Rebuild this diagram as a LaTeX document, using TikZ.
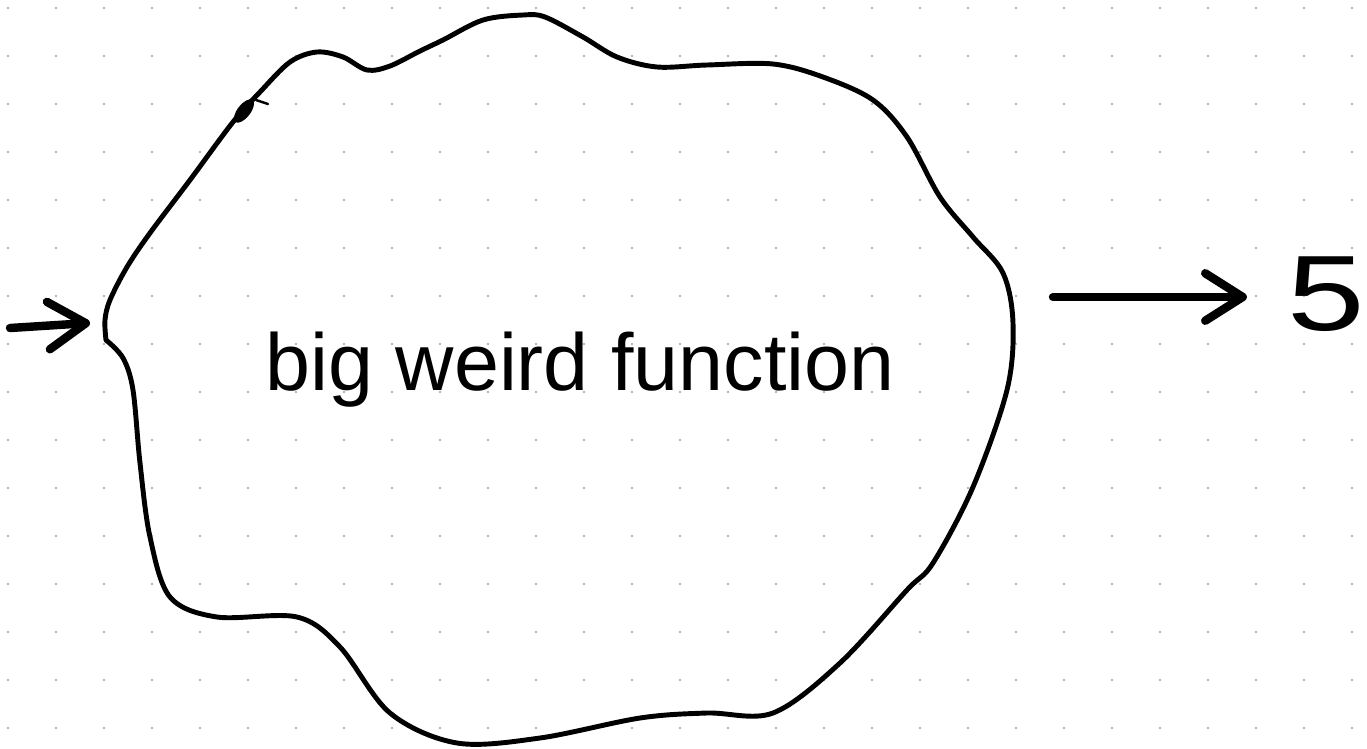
\documentclass[tikz,border=0pt]{standalone}
\usepackage{fontspec}
\setmainfont{Liberation Sans}
\usetikzlibrary{arrows.meta}

\definecolor{gridblue}{RGB}{163,180,212}

\begin{document}
\begin{tikzpicture}[
    x=0.02cm, y=-0.02cm,
    blobline/.style={draw=black, line width=2.8pt, line join=round, line cap=round},
    arr/.style={line width=4.8pt, line cap=round,
                -{Straight Barb[length=7.5mm, width=9.5mm, round]}},
    dot/.style={fill=gridblue},
    hand/.style={font=\fontsize{46}{50}\selectfont, inner sep=0pt, anchor=base},
    bighand/.style={font=\fontsize{61}{64}\selectfont, inner sep=0pt, anchor=base}
]
    \fill[white] (0,0) rectangle (1367,748);
    \useasboundingbox (0,0) rectangle (1367,748);

    % dotted paper
    \foreach \i in {0,...,28}
        \foreach \j in {0,...,15}
            \fill[dot] (8+48*\i, 8+48*\j) circle[radius=0.028cm];

    % the blob
    \draw[blobline] plot[smooth, tension=0.55] coordinates {
        (106,340) (105,320) (110,300) (127,267) (150,233) (190,180)
        (233,122) (260,92) (290,62) (317,52) (343,57) (367,70) (390,66)
        (420,51) (443,40) (483,20) (523,15) (545,17) (583,37) (617,57)
        (657,67) (707,65) (773,64) (823,77) (873,100) (907,137) (940,197)
        (973,237) (1003,273) (1013,323) (1007,390) (973,487) (933,563)
        (907,590) (840,663) (773,713) (707,713) (640,718) (540,738)
        (457,743) (390,713) (340,647) (297,617) (217,617) (170,597)
        (150,537) (140,463) (133,390) (123,358) (106,340)};
    \fill[rotate around={52:(244,111)}] (244,111) ellipse[x radius=0.28cm, y radius=0.13cm];
    \draw[line width=1.4pt, line cap=round] (256,100) -- (268,104);

    \node[hand] (fn) at (580,390) {big weird function};
    \node[bighand] (five) at (1326,330) {\scalebox{1.3}[1]{5}};

    \coordinate (blobW) at (105,322);
    \coordinate (blobE) at (1013,297);
    \coordinate (inTail) at (10,328);

    \draw[arr, shorten >=0.3cm] (inTail) -- (blobW);
    \draw[arr, shorten <=0.8cm, shorten >=0.8cm] (blobE) -- (blobE -| five.west);
\end{tikzpicture}
\end{document}
